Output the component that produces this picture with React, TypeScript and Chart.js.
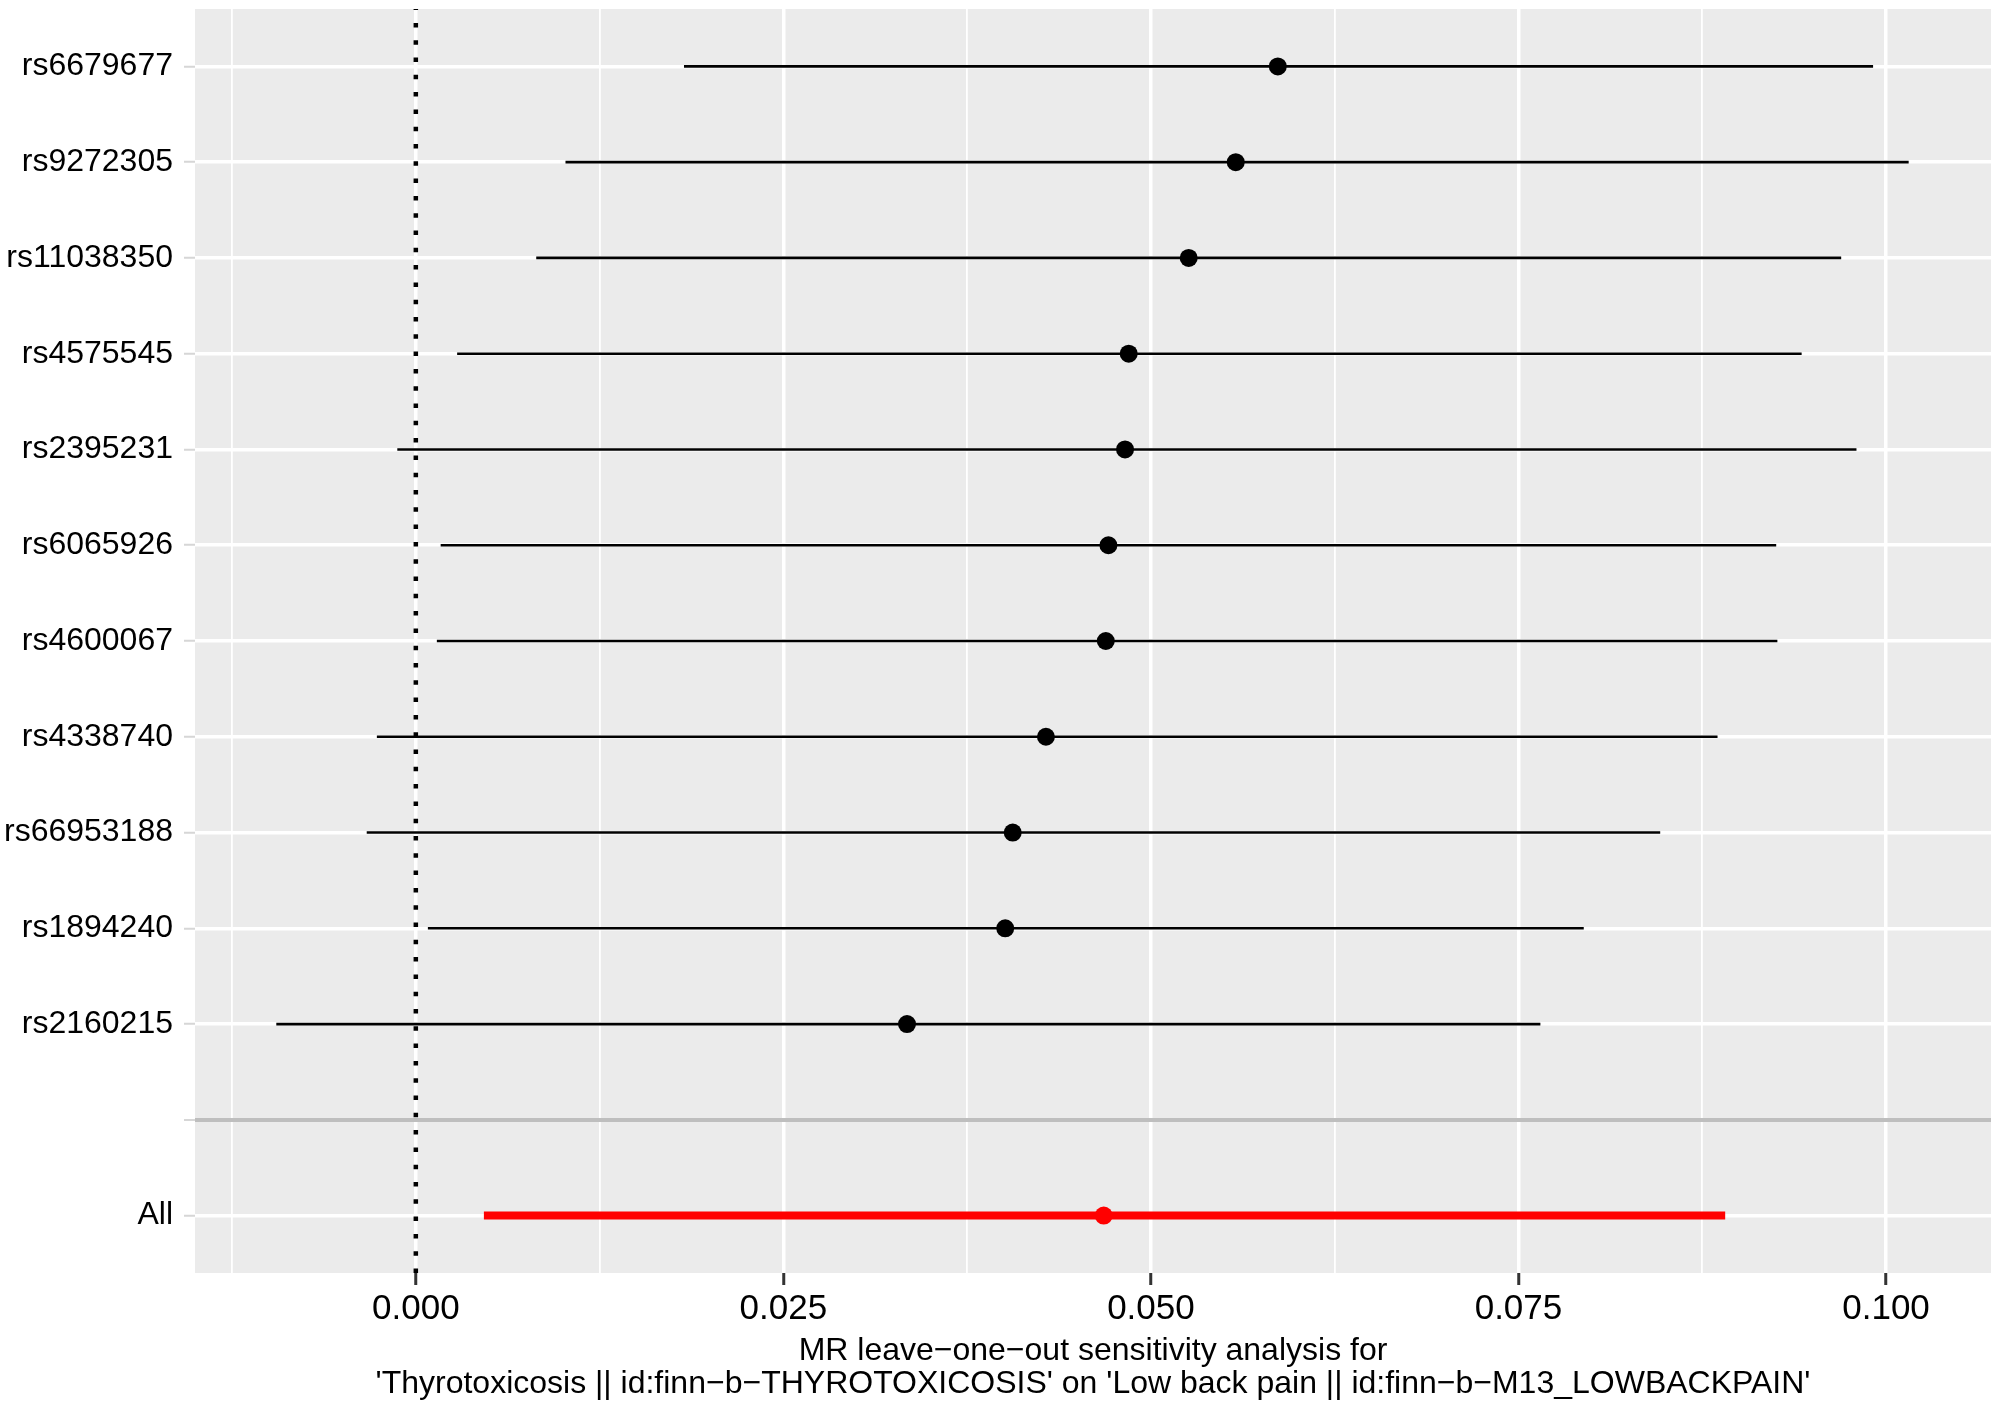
import React, { useEffect, useRef } from 'react';
import { Chart, registerables } from 'chart.js';

Chart.register(...registerables);

// ---- Data ----
const SNP_LABELS = [
  'rs6679677',
  'rs9272305',
  'rs11038350',
  'rs4575545',
  'rs2395231',
  'rs6065926',
  'rs4600067',
  'rs4338740',
  'rs66953188',
  'rs1894240',
  'rs2160215',
];
const SNP_ESTIMATES = [0.05863, 0.05577, 0.05257, 0.04849, 0.04824, 0.04711, 0.04693, 0.04286, 0.0406, 0.04009, 0.03341];
const SNP_LOWER = [0.01824, 0.01018, 0.00819, 0.00281, -0.00126, 0.00169, 0.00143, -0.00265, -0.00334, 0.00082, -0.00949];
const SNP_UPPER = [0.09912, 0.10154, 0.09695, 0.09426, 0.09799, 0.09253, 0.09261, 0.08854, 0.08464, 0.07944, 0.07649];

const ALL_LABEL = 'All';
const ALL_ESTIMATE = 0.04679;
const ALL_LOWER = 0.00463;
const ALL_UPPER = 0.08906;

const Y_LABELS = [...SNP_LABELS, '', ALL_LABEL];
const SEPARATOR_INDEX = SNP_LABELS.length; // blank level with grey line

const X_MAJOR_TICKS = [0, 0.025, 0.05, 0.075, 0.1];
const X_MAJOR_LABELS = ['0.000', '0.025', '0.050', '0.075', '0.100'];
const X_MINOR_TICKS = [-0.0125, 0.0125, 0.0375, 0.0625, 0.0875];
const X_MIN = -0.01502;
const X_MAX = 0.10714;
const Y_MIN = -0.6;
const Y_MAX = 12.6;
const REFERENCE_X = 0;

const X_TITLE = [
  'MR leave\u2212one\u2212out sensitivity analysis for',
  "'Thyrotoxicosis || id:finn\u2212b\u2212THYROTOXICOSIS' on 'Low back pain || id:finn\u2212b\u2212M13_LOWBACKPAIN'",
];

const FONT_FAMILY = '"Liberation Sans", Arial, Helvetica, sans-serif';

const isMajor = (v: number) => X_MAJOR_TICKS.some((m) => Math.abs(m - v) < 1e-9);

const panelBackground = {
  id: 'panelBackground',
  beforeDraw(chart: any) {
    const { ctx, chartArea } = chart;
    if (!chartArea) return;
    ctx.save();
    ctx.fillStyle = '#EBEBEB';
    ctx.fillRect(chartArea.left, chartArea.top, chartArea.right - chartArea.left, chartArea.bottom - chartArea.top);
    ctx.restore();
  },
};

export default function App() {
  const canvasRef = useRef<HTMLCanvasElement | null>(null);

  useEffect(() => {
    const canvas = canvasRef.current;
    if (!canvas) return;

    const pointData = [
      ...SNP_ESTIMATES.map((x, i) => ({ x, y: i })),
      { x: ALL_ESTIMATE, y: Y_LABELS.length - 1 },
    ];
    const pointColors = [...SNP_ESTIMATES.map(() => '#000000'), '#FF0000'];

    const datasets: any[] = [];
    datasets.push({
      label: 'estimates',
      data: pointData,
      pointRadius: 9,
      pointHoverRadius: 9,
      pointBackgroundColor: pointColors,
      pointBorderWidth: 0,
      pointBorderColor: pointColors,
      showLine: false,
      order: 0,
    });
    SNP_LABELS.forEach((_, i) => {
      datasets.push({
        label: 'ci' + i,
        data: [
          { x: SNP_LOWER[i], y: i },
          { x: SNP_UPPER[i], y: i },
        ],
        showLine: true,
        borderColor: '#000000',
        borderWidth: 2.7,
        pointRadius: 0,
        order: 1,
      });
    });
    datasets.push({
      label: 'ciAll',
      data: [
        { x: ALL_LOWER, y: Y_LABELS.length - 1 },
        { x: ALL_UPPER, y: Y_LABELS.length - 1 },
      ],
      showLine: true,
      borderColor: '#FF0000',
      borderWidth: 8,
      pointRadius: 0,
      order: 1,
    });
    datasets.push({
      label: 'zero',
      data: [
        { x: REFERENCE_X, y: Y_MAX },
        { x: REFERENCE_X, y: Y_MIN },
      ],
      showLine: true,
      borderColor: '#000000',
      borderWidth: 4.5,
      borderDash: [4.5, 12.8],
      borderCapStyle: 'butt',
      pointRadius: 0,
      order: 2,
    });

    const chart = new Chart(canvas, {
      type: 'scatter',
      data: { datasets },
      plugins: [panelBackground],
      options: {
        animation: false,
        responsive: false,
        devicePixelRatio: 1,
        events: [],
        layout: { padding: { top: 7, right: 7, left: 0, bottom: 0 } },
        plugins: {
          legend: { display: false },
          tooltip: { enabled: false },
        },
        scales: {
          x: {
            type: 'linear',
            position: 'bottom',
            min: X_MIN,
            max: X_MAX,
            afterBuildTicks: (scale: any) => {
              scale.ticks = [...X_MINOR_TICKS, ...X_MAJOR_TICKS]
                .sort((a, b) => a - b)
                .map((v) => ({ value: v }));
            },
            afterFit: (scale: any) => {
              scale.height = 139;
              scale.paddingLeft = 0;
              scale.paddingRight = 0;
              scale.paddingTop = 0;
              scale.paddingBottom = 0;
            },
            border: { display: false },
            grid: {
              color: '#FFFFFF',
              lineWidth: (ctx: any) => (isMajor(ctx.tick.value) ? 3.5 : 1.8),
              drawTicks: true,
              tickLength: 12,
              tickWidth: 3,
              tickColor: (ctx: any) => (isMajor(ctx.tick.value) ? '#333333' : 'rgba(0,0,0,0)'),
            },
            ticks: {
              autoSkip: false,
              maxRotation: 0,
              minRotation: 0,
              padding: 3,
              color: '#000000',
              font: { family: FONT_FAMILY, size: 35, lineHeight: 1.2 },
              callback: (value: any) => {
                const idx = X_MAJOR_TICKS.findIndex((m) => Math.abs(m - Number(value)) < 1e-9);
                return idx >= 0 ? X_MAJOR_LABELS[idx] : '';
              },
            },
            title: {
              display: true,
              text: X_TITLE,
              color: '#000000',
              font: { family: FONT_FAMILY, size: 32, lineHeight: 33 / 32 },
              padding: { top: 0, bottom: 11 },
            },
          },
          y: {
            type: 'linear',
            reverse: true,
            min: Y_MIN,
            max: Y_MAX,
            afterBuildTicks: (scale: any) => {
              scale.ticks = Y_LABELS.map((_, i) => ({ value: i }));
            },
            afterFit: (scale: any) => {
              scale.width = 195;
              scale.paddingLeft = 0;
              scale.paddingRight = 0;
              scale.paddingTop = 0;
              scale.paddingBottom = 0;
            },
            border: { display: false },
            grid: {
              color: (ctx: any) => (ctx.tick && ctx.tick.value === SEPARATOR_INDEX ? '#BEBEBE' : '#FFFFFF'),
              lineWidth: (ctx: any) => (ctx.tick && ctx.tick.value === SEPARATOR_INDEX ? 4 : 3.5),
              drawTicks: true,
              tickLength: 11,
              tickWidth: 2,
              tickColor: '#D6D6D6',
            },
            ticks: {
              autoSkip: false,
              padding: 11,
              color: '#000000',
              font: { family: FONT_FAMILY, size: 32 },
              callback: (value: any) => Y_LABELS[Math.round(Number(value))] ?? '',
            },
          },
        },
      } as any,
    });

    return () => {
      chart.destroy();
    };
  }, []);

  return (
    <div style={{ position: 'absolute', left: 0, top: 0, width: 2000, height: 1412, background: '#FFFFFF' }}>
      <canvas ref={canvasRef} width={2000} height={1412} style={{ display: 'block', width: 2000, height: 1412 }} />
    </div>
  );
}
